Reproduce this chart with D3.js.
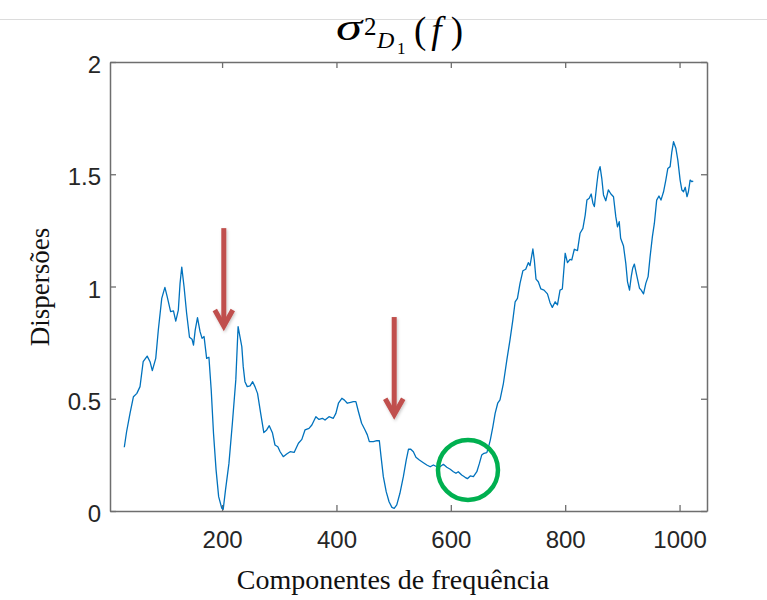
<!DOCTYPE html>
<html>
<head>
<meta charset="utf-8">
<script src="https://cdn.jsdelivr.net/npm/d3@7"></script>
<style>
  html, body { margin: 0; padding: 0; background: #fff; }
  svg { display: block; }
</style>
</head>
<body>
<svg id="chart" width="767" height="600"></svg>
<script>
// Frequency component index (x) and dispersion value (y)
const freq = [
  29, 33, 39, 45, 51, 56.5, 62, 69, 74, 78, 84, 88.5, 94.5, 100, 104, 110, 115, 119, 123.5, 126.5,
  129.5, 133.5, 138, 143, 147.5, 150, 153, 157, 161.5, 165, 168.5, 173, 177, 181, 185, 189.5, 194, 199.5, 202, 206,
  212, 218, 224, 228, 234.5, 237, 240, 244, 249, 253.5, 257.5, 262, 267.5, 273, 278, 282.5, 288, 292.5, 297.5, 301.5,
  307, 313, 319, 326, 333.5, 339.5, 345, 352, 357, 364, 369.5, 375.5, 380, 387, 394.5, 399, 403.5, 409.5, 414, 419,
  425, 429.5, 434, 438.5, 444, 450, 454, 457.5, 464.5, 470.5, 475, 478, 482, 487, 492, 497, 501, 505.5, 511, 517,
  522, 526, 530, 534.5, 539, 545, 552, 558, 564, 569.5, 575.5, 581, 587, 593, 599, 604.5, 609, 613, 619, 625,
  629, 634, 639.5, 645.5, 650, 654, 658, 663, 666, 669, 673.5, 677.5, 682, 686, 692, 698, 703.5, 708.5, 712.5, 716.5,
  721, 726, 731, 735.5, 738.5, 743.5, 746, 749, 753, 757.5, 763, 769, 773.5, 777.5, 782.5, 786.5, 791, 795, 800, 804,
  808.5, 811.5, 816, 821.5, 826, 831, 835, 838, 842, 845.5, 848.5, 851, 855.5, 858, 861, 864, 867, 871, 875.5, 880,
  884.5, 888.5, 891.5, 894.5, 897, 902, 906, 909, 912.5, 915.5, 918, 921, 925, 930, 933, 937, 941, 945, 948.5, 952.5,
  956, 960, 964, 967.5, 972, 976, 979.5, 983.5, 986.5, 989.5, 993.5, 997, 1001, 1004, 1007, 1010, 1013, 1015.5, 1018.5, 1021.5,
  1024
];
const dispersion = [
  0.284, 0.353, 0.435, 0.509, 0.524, 0.554, 0.665, 0.690, 0.665, 0.625, 0.680, 0.806, 0.947, 0.996, 0.955, 0.888, 0.891, 0.846, 0.895, 1.014,
  1.086, 0.999, 0.881, 0.774, 0.765, 0.739, 0.806, 0.861, 0.799, 0.769, 0.777, 0.680, 0.685, 0.539, 0.346, 0.183, 0.064, 0.012, 0.008, 0.094,
  0.212, 0.391, 0.584, 0.821, 0.732, 0.643, 0.576, 0.554, 0.557, 0.576, 0.554, 0.524, 0.435, 0.349, 0.361, 0.380, 0.349, 0.294, 0.286, 0.264,
  0.242, 0.254, 0.264, 0.261, 0.302, 0.319, 0.361, 0.368, 0.383, 0.420, 0.408, 0.413, 0.405, 0.420, 0.413, 0.435, 0.480, 0.502, 0.494, 0.480,
  0.484, 0.487, 0.487, 0.442, 0.391, 0.361, 0.339, 0.309, 0.309, 0.313, 0.313, 0.242, 0.153, 0.086, 0.041, 0.016, 0.012, 0.027, 0.079, 0.153,
  0.227, 0.276, 0.275, 0.264, 0.239, 0.227, 0.215, 0.205, 0.197, 0.205, 0.197, 0.197, 0.208, 0.195, 0.186, 0.175, 0.168, 0.175, 0.160, 0.150,
  0.144, 0.156, 0.153, 0.175, 0.212, 0.249, 0.257, 0.260, 0.286, 0.316, 0.375, 0.435, 0.480, 0.495, 0.569, 0.673, 0.762, 0.851, 0.932, 0.947,
  1.014, 1.070, 1.077, 1.106, 1.093, 1.167, 1.118, 1.033, 1.021, 0.989, 0.984, 0.967, 0.928, 0.907, 0.932, 0.918, 0.984, 0.989, 1.148, 1.106,
  1.121, 1.118, 1.166, 1.160, 1.237, 1.259, 1.318, 1.385, 1.393, 1.412, 1.371, 1.356, 1.460, 1.511, 1.534, 1.482, 1.408, 1.382, 1.430, 1.412,
  1.400, 1.311, 1.266, 1.289, 1.215, 1.180, 1.103, 1.021, 0.984, 1.044, 1.081, 1.100, 1.051, 0.992, 0.984, 0.967, 1.014, 1.044, 1.133, 1.222,
  1.282, 1.385, 1.403, 1.385, 1.422, 1.474, 1.526, 1.534, 1.600, 1.645, 1.616, 1.563, 1.474, 1.430, 1.422, 1.442, 1.400, 1.422, 1.474, 1.467,
  1.470
];

const xTicks = [200, 400, 600, 800, 1000];
const yTicks = [0, 0.5, 1, 1.5, 2];
const yTickLabels = ["0", "0.5", "1", "1.5", "2"];

// Annotations: two downward arrows (x, top y, tip y) and one highlight circle (x, y)
const arrowX = [203, 501];
const arrowTop = [1.26, 0.864];
const arrowTip = [0.815, 0.42];
const circleAt = [630, 0.183];

const xLabel = "Componentes de frequência";
const yLabel = "Dispersões";

const svg = d3.select("#chart");

const plotLeft = 110, plotRight = 707, plotTop = 62, plotBottom = 511;
const x = d3.scaleLinear().domain([4, 1048]).range([plotLeft, plotRight]);
const y = d3.scaleLinear().domain([0, 2]).range([plotBottom, plotTop]);

// faint separator line near the top edge
svg.append("line")
  .attr("x1", 0).attr("x2", 767).attr("y1", 19.5).attr("y2", 19.5)
  .attr("stroke", "#dcdcdc").attr("stroke-width", 1);

const axisColor = "#6e6e6e";
const labelColor = "#262626";

function styleAxis(g) {
  g.selectAll("path.domain").attr("stroke", axisColor).attr("stroke-width", 1.5);
  g.selectAll(".tick line").attr("stroke", axisColor).attr("stroke-width", 1.3);
  g.selectAll(".tick text")
    .attr("fill", labelColor)
    .style("font-family", "'Liberation Sans', Arial, sans-serif")
    .style("font-size", "24px");
}

// bottom axis with labels
svg.append("g")
  .attr("transform", `translate(0,${plotBottom})`)
  .call(d3.axisBottom(x).tickValues(xTicks).tickFormat(d3.format("d"))
    .tickSizeInner(-6).tickSizeOuter(0).tickPadding(20))
  .call(styleAxis);

// top axis, ticks only
svg.append("g")
  .attr("transform", `translate(0,${plotTop})`)
  .call(d3.axisTop(x).tickValues(xTicks).tickFormat("")
    .tickSizeInner(-6).tickSizeOuter(0))
  .call(styleAxis);

// left axis with labels
svg.append("g")
  .attr("transform", `translate(${plotLeft},0)`)
  .call(d3.axisLeft(y).tickValues(yTicks).tickFormat((d, i) => yTickLabels[i])
    .tickSizeInner(-6).tickSizeOuter(0).tickPadding(9))
  .call(styleAxis)
  .call(g => g.selectAll(".tick text").attr("dy", "0.44em"));

// right axis, ticks only
svg.append("g")
  .attr("transform", `translate(${plotRight},0)`)
  .call(d3.axisRight(y).tickValues(yTicks).tickFormat("")
    .tickSizeInner(-6).tickSizeOuter(0))
  .call(styleAxis);

// data line
const line = d3.line()
  .x((d, i) => x(freq[i]))
  .y(d => y(d));

svg.append("path")
  .datum(dispersion)
  .attr("fill", "none")
  .attr("stroke", "#0072BD")
  .attr("stroke-width", 1.3)
  .attr("stroke-linejoin", "round")
  .attr("d", line);

// arrows
const arrowColor = "#C0504D";
const defs = svg.append("defs");
defs.append("filter").attr("id", "soft")
  .attr("x", "-50%").attr("y", "-20%").attr("width", "200%").attr("height", "140%")
  .append("feDropShadow")
  .attr("dx", 1).attr("dy", 1.5).attr("stdDeviation", 1.5)
  .attr("flood-color", "#000").attr("flood-opacity", 0.22);

arrowX.forEach((ax, i) => {
  const px = x(ax), y0 = y(arrowTop[i]), y1 = y(arrowTip[i]);
  const g = svg.append("g").attr("filter", "url(#soft)");
  g.append("line")
    .attr("x1", px).attr("x2", px).attr("y1", y0).attr("y2", y1 - 3)
    .attr("stroke", arrowColor).attr("stroke-width", 5);
  g.append("path")
    .attr("d", `M${px - 9},${y1 - 18} L${px},${y1 - 2} L${px + 9},${y1 - 18}`)
    .attr("fill", "none")
    .attr("stroke", arrowColor).attr("stroke-width", 5)
    .attr("stroke-linejoin", "miter").attr("stroke-linecap", "butt");
});

// highlight circle
svg.append("circle")
  .attr("cx", x(circleAt[0])).attr("cy", y(circleAt[1])).attr("r", 30)
  .attr("fill", "none").attr("stroke", "#00B050").attr("stroke-width", 4.5);

// axis titles
svg.append("text")
  .attr("x", 393).attr("y", 589)
  .attr("text-anchor", "middle")
  .attr("fill", "#111")
  .style("font-family", "'Liberation Serif', 'Times New Roman', serif")
  .style("font-size", "28px")
  .text(xLabel);

svg.append("text")
  .attr("transform", "translate(49,287) rotate(-90)")
  .attr("text-anchor", "middle")
  .attr("fill", "#111")
  .style("font-family", "'Liberation Serif', 'Times New Roman', serif")
  .style("font-size", "27px")
  .text(yLabel);

// chart title: sigma squared, subscript D1, of f
const title = svg.append("g")
  .attr("fill", "#000")
  .style("font-family", "'Liberation Serif', 'Times New Roman', serif");

title.append("text")
  .attr("x", 336).attr("y", 40)
  .attr("textLength", 26).attr("lengthAdjust", "spacingAndGlyphs")
  .style("font-size", "38px").style("font-style", "italic")
  .text("\u03C3");
title.append("text")
  .attr("x", 364).attr("y", 35)
  .style("font-size", "25px")
  .text("2");
title.append("text")
  .attr("x", 377).attr("y", 48)
  .style("font-size", "24px").style("font-style", "italic")
  .text("D");
title.append("text")
  .attr("x", 397).attr("y", 54)
  .style("font-size", "17px")
  .text("1");
const paren = title.append("text")
  .attr("x", 414).attr("y", 43)
  .attr("textLength", 49).attr("lengthAdjust", "spacing")
  .style("font-size", "37px");
paren.append("tspan").text("(");
paren.append("tspan").style("font-style", "italic").text("f");
paren.append("tspan").attr("dx", 4).text(")");
</script>
</body>
</html>
